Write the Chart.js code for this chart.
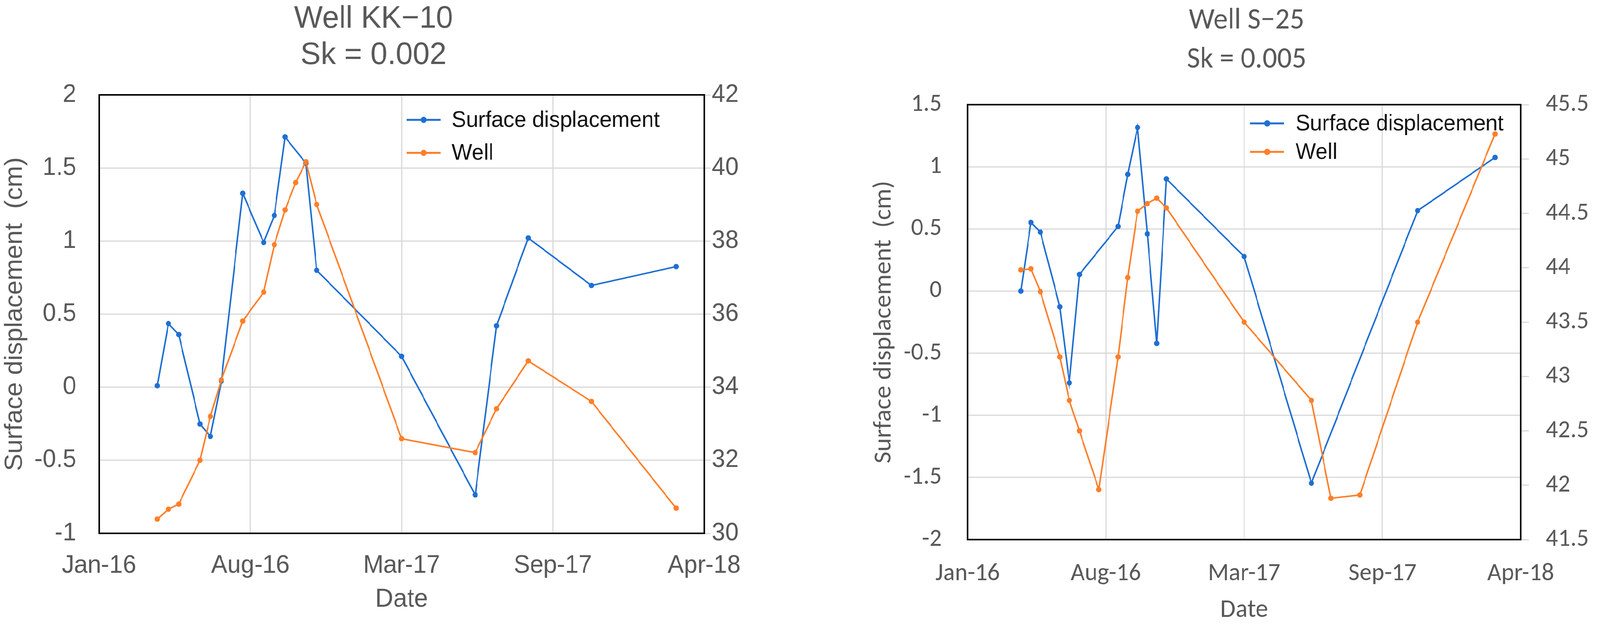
<!DOCTYPE html>
<html>
<head>
<meta charset="utf-8">
<script src="https://cdn.jsdelivr.net/npm/chart.js@4.4.1/dist/chart.umd.min.js"></script>
<style>
  html, body { margin: 0; padding: 0; background: #fff; overflow: hidden; }
  #page { position: relative; width: 4215px; height: 1611px; overflow: hidden; transform-origin: 0 0; }
  .panel { position: absolute; top: 0; height: 1611px; }
  #left { left: -30px; width: 2028px; }
  #right { left: 2280px; width: 2008px; }
</style>
</head>
<body>
<div id="page">
  <div class="panel" id="left"><canvas id="kkChart"></canvas></div>
  <div class="panel" id="right"><canvas id="sChart"></canvas></div>
</div>
<script>
// sampling dates, in days from the Jan-16 axis tick
const sampleDays = [82, 97.5, 112, 142, 156.5, 172, 202, 231.5, 246.5, 261.5, 276.5, 291, 306, 425.5, 529, 559, 603.5, 692.5, 811.5];
const tickLabels = ['Jan-16', 'Aug-16', 'Mar-17', 'Sep-17', 'Apr-18'];
const tickStep = 212.75; // days between date ticks

// Well KK-10 (null = no reading that day)
const kkDisp = [0.01, 0.435, 0.36, -0.252, -0.337, 0.042, 1.327, 0.99, 1.175, 1.712, null, 1.532, 0.80, 0.211, -0.737, 0.42, 1.021, 0.696, 0.825];
const kkWell = [30.39, 30.66, 30.8, 32.0, 33.2, 34.2, 35.81, 36.6, 37.9, 38.85, 39.6, 40.17, 39.0, 32.59, 32.21, 33.41, 34.72, 33.61, 30.69];

// Well S-25
const sDisp = [0, 0.552, 0.474, -0.127, -0.739, 0.133, null, 0.52, 0.939, 1.316, 0.46, -0.421, 0.902, 0.278, -1.546, null, null, 0.647, 1.075];
const sWell = [43.98, 43.99, 43.78, 43.18, 42.78, 42.5, 41.96, 43.18, 43.91, 44.52, 44.59, 44.64, 44.55, 43.5, 42.78, 41.88, 41.91, 43.5, 45.23];

const BLUE = '#1f6fd2';
const ORANGE = '#ff7f2a';
const GRID = '#d9d9d9';
const TEXT = '#595959';
const ARIAL = "'Liberation Sans', Arial, sans-serif";
const CALIBRI = "Carlito, Calibri, Lato, sans-serif";

// the browser window may be narrower than the 4215px picture: squeeze the page to fit
document.getElementById('page').style.transform = 'scaleX(' + (window.innerWidth / 4215) + ')';

Chart.defaults.color = TEXT;

function points(values) {
    return sampleDays.map((d, i) => ({ x: d, y: values[i] })).filter(p => p.y !== null);
}

// black frame round the plot area
const plotFrame = {
    id: 'plotFrame',
    beforeDatasetsDraw(chart) {
        const { ctx, chartArea: a } = chart;
        ctx.save();
        ctx.strokeStyle = '#000';
        ctx.lineWidth = 4;
        ctx.strokeRect(a.left, a.top, a.right - a.left, a.bottom - a.top);
        ctx.restore();
    }
};

// legend drawn inside the plot, top right
const insideLegend = {
    id: 'insideLegend',
    afterDraw(chart, args, o) {
        const { ctx, chartArea: a } = chart;
        ctx.save();
        chart.data.datasets.forEach((ds, i) => {
            const x = a.left + o.x;
            const y = a.top + o.y + i * o.gap;
            ctx.strokeStyle = ds.borderColor;
            ctx.lineWidth = 5;
            ctx.beginPath();
            ctx.moveTo(x, y);
            ctx.lineTo(x + o.sample, y);
            ctx.stroke();
            ctx.fillStyle = ds.borderColor;
            ctx.beginPath();
            ctx.arc(x + o.sample / 2, y, 8, 0, Math.PI * 2);
            ctx.fill();
            ctx.fillStyle = '#111';
            ctx.font = o.size + 'px ' + ARIAL;
            ctx.textBaseline = 'middle';
            ctx.fillText(ds.label, x + o.text, y + 2);
        });
        ctx.restore();
    }
};

function wellChart(id, s) {
    return new Chart(document.getElementById(id), {
        type: 'line',
        data: {
            datasets: [{
                label: 'Surface displacement',
                data: points(s.disp),
                yAxisID: 'y',
                borderColor: BLUE,
                backgroundColor: BLUE,
                order: 1
            }, {
                label: 'Well',
                data: points(s.well),
                yAxisID: 'y1',
                borderColor: ORANGE,
                backgroundColor: ORANGE,
                order: 0
            }]
        },
        options: {
            responsive: true,
            maintainAspectRatio: false,
            animation: false,
            devicePixelRatio: 1,
            layout: { padding: 0 },
            elements: {
                line: { borderWidth: 4, tension: 0 },
                point: { radius: 7, borderWidth: 0, hoverRadius: 7 }
            },
            plugins: {
                legend: { display: false },
                tooltip: { enabled: false },
                title: {
                    display: true,
                    text: s.title,
                    color: TEXT,
                    font: { family: s.font, size: s.titleSize, weight: 'normal', lineHeight: s.titleLH },
                    padding: s.titlePad
                },
                insideLegend: s.legend
            },
            scales: {
                x: {
                    type: 'linear',
                    min: 0,
                    max: tickStep * (tickLabels.length - 1),
                    afterBuildTicks: (scale) => {
                        scale.ticks = tickLabels.map((_, i) => ({ value: i * tickStep }));
                    },
                    afterFit: (scale) => { scale.height = s.xHeight; },
                    grid: { color: GRID, lineWidth: 3, drawTicks: false },
                    border: { display: false },
                    ticks: {
                        autoSkip: false,
                        maxRotation: 0,
                        padding: s.xTickPad,
                        font: { family: s.font, size: s.tickSize },
                        callback: (v, i) => tickLabels[i]
                    },
                    title: {
                        display: true,
                        text: 'Date',
                        font: { family: s.font, size: s.axisTitleSize },
                        padding: { top: 0, bottom: s.xTitlePad }
                    }
                },
                y: {
                    position: 'left',
                    min: s.y[0], max: s.y[1],
                    afterFit: (scale) => { scale.width = s.yWidth; },
                    grid: { color: GRID, lineWidth: 3, drawTicks: false },
                    border: { display: false },
                    ticks: {
                        stepSize: s.y[2],
                        padding: s.yTickPad,
                        font: { family: s.font, size: s.tickSize },
                        callback: (v) => String(v)
                    },
                    title: {
                        display: true,
                        text: 'Surface displacement  (cm)',
                        font: { family: s.font, size: s.axisTitleSize },
                        padding: { top: s.yTitlePad, bottom: 0 }
                    }
                },
                y1: {
                    position: 'right',
                    min: s.y1[0], max: s.y1[1],
                    afterFit: (scale) => { scale.width = s.y1Width; },
                    grid: { color: GRID, lineWidth: 3, drawOnChartArea: false, drawTicks: true, tickLength: s.y1TickLen },
                    border: { display: false },
                    ticks: {
                        stepSize: s.y1[2],
                        padding: s.y1TickPad,
                        font: { family: s.font, size: s.tickSize },
                        callback: (v) => String(v)
                    }
                }
            }
        },
        plugins: [plotFrame, insideLegend]
    });
}

wellChart('kkChart', {
    disp: kkDisp, well: kkWell,
    title: ['Well KK\u221210', 'Sk = 0.002'],
    font: ARIAL, tickSize: 64, axisTitleSize: 66,
    titleSize: 80, titleLH: 1.16, titlePad: { top: 3, bottom: 54.4 },
    xHeight: 245, xTickPad: 44.6, xTitlePad: 35.4,
    yWidth: 291, yTickPad: 60, yTitlePad: 30.4,
    y1Width: 143, y1TickLen: 17, y1TickPad: 3,
    y: [-1, 2, 0.5], y1: [30, 42, 2],
    legend: { x: 810, y: 64, gap: 84.5, sample: 90, text: 119, size: 57 }
});

wellChart('sChart', {
    disp: sDisp, well: sWell,
    title: ['Well S\u221225', 'Sk = 0.005'],
    font: CALIBRI, tickSize: 64, axisTitleSize: 66,
    titleSize: 76, titleLH: 1.316, titlePad: { top: 3.6, bottom: 64.4 },
    xHeight: 229, xTickPad: 49.6, xTitlePad: 8.4,
    yWidth: 269, yTickPad: 68, yTitlePad: 9.4,
    y1Width: 282, y1TickLen: 22, y1TickPad: 44,
    y: [-2, 1.5, 0.5], y1: [41.5, 45.5, 0.5],
    legend: { x: 744, y: 48, gap: 73, sample: 90, text: 120, size: 57 }
});
</script>
</body>
</html>
